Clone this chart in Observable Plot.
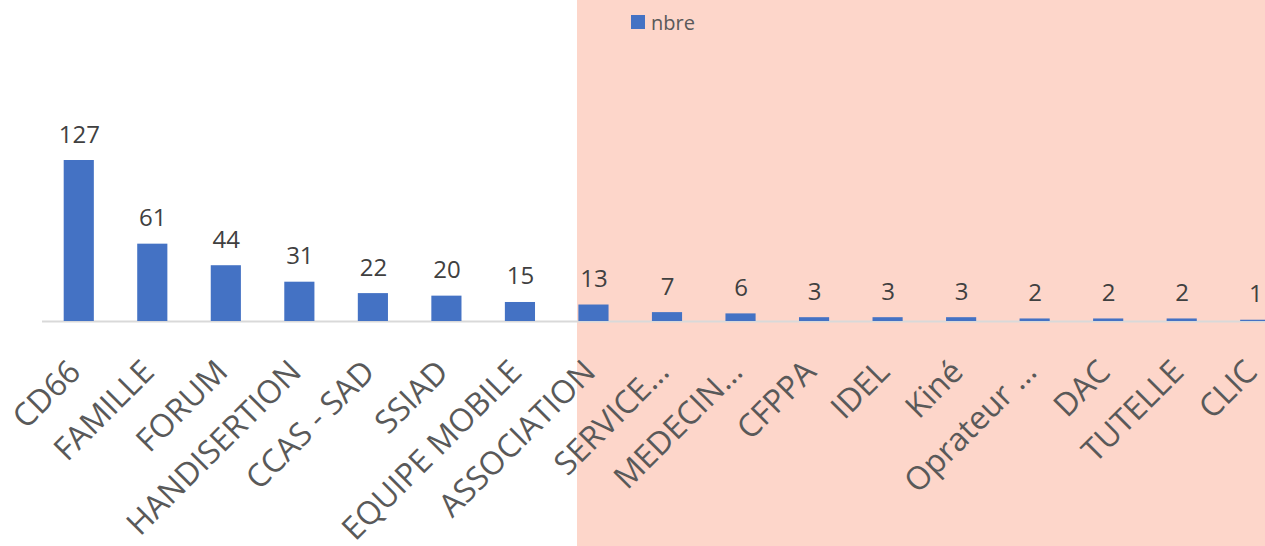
<!DOCTYPE html>
<html>
<head>
<meta charset="utf-8">
<script src="https://cdn.jsdelivr.net/npm/d3@7"></script>
<script src="https://cdn.jsdelivr.net/npm/@observablehq/plot@0.6"></script>
<style>
  html, body { margin: 0; padding: 0; background: #ffffff; }
  #wrap { position: relative; width: 1265px; height: 546px; overflow: hidden; font-family: "Open Sans", sans-serif; }
  #band { position: absolute; left: 577px; top: 0; width: 688px; height: 546px; background: #fdd6ca; }
  #chart { position: absolute; left: 0; top: 0; }
  #chart figure { margin: 0; }
  #chart div[class*="-swatches"] {
    height: 44px; min-height: 44px; margin: 0 0 0 631px; padding: 0;
    display: flex; align-items: center;
    font-family: "Open Sans", sans-serif; font-size: 20px; color: #595959;
  }
  #chart span[class*="-swatch"] { display: inline-flex; align-items: center; margin: 0; }
  #chart span[class*="-swatch"] > svg { margin-right: 6px; }
</style>
</head>
<body>
<div id="wrap">
  <div id="band"></div>
  <div id="chart"></div>
</div>
<script>
// Number of referrals per partner
const categories = ["CD66", "FAMILLE", "FORUM", "HANDISERTION", "CCAS - SAD", "SSIAD", "EQUIPE MOBILE", "ASSOCIATION", "SERVICE…", "MEDECIN…", "CFPPA", "IDEL", "Kiné", "Oprateur …", "DAC", "TUTELLE", "CLIC"];
const values = [127, 61, 44, 31, 22, 20, 15, 13, 7, 6, 3, 3, 3, 2, 2, 2, 1];
const series = ["nbre"];
const colors = ["#4472c4"];

const rows = categories.map((c, i) => ({cat: c, n: values[i]}));

const chart = Plot.plot({
  width: 1265,
  height: 502,
  marginLeft: 42,
  marginRight: -27,
  marginTop: 0,
  marginBottom: 225,
  style: {fontFamily: "Open Sans, sans-serif", background: "transparent", overflow: "visible"},
  x: {domain: categories, paddingInner: 0.59, paddingOuter: 0.295, round: false, axis: null},
  y: {domain: [0, 127], range: [277, 116], axis: null},
  color: {domain: series, range: colors, legend: true, swatchSize: 14},
  marks: [
    Plot.ruleY([0], {stroke: "#d9d9d9", strokeWidth: 2}),
    Plot.barY(rows, {x: "cat", y: "n", fill: () => series[0]}),
    Plot.text(rows, {
      x: "cat", y: "n", text: d => String(d.n),
      lineAnchor: "bottom", dy: -18,
      fontSize: 24, fill: "#404040"
    }),
    Plot.axisX({
      tickSize: 0, tickPadding: 0, tickRotate: -45,
      textAnchor: "end", lineAnchor: "middle",
      dx: -4, dy: 45,
      fontSize: 32, fill: "#595959", label: null
    })
  ]
});
document.getElementById("chart").appendChild(chart);
</script>
</body>
</html>
